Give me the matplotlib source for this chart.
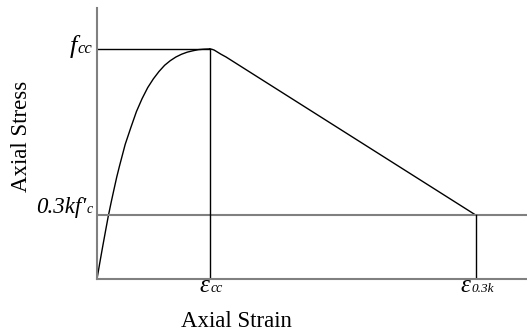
import matplotlib
matplotlib.use("Agg")
import matplotlib.pyplot as plt

# Normalised stress-strain curve (strain / eps_cc, stress / f_cc)
asc_strain = [0.0, 0.025, 0.05, 0.075, 0.10, 0.125, 0.15, 0.175, 0.20, 0.25, 0.30,
              0.35, 0.40, 0.45, 0.50, 0.55, 0.60, 0.65, 0.70, 0.75, 0.80, 0.85,
              0.90, 0.95, 1.00]
asc_stress = [0.0, 0.071, 0.14, 0.207, 0.273, 0.332, 0.388, 0.443, 0.492, 0.585, 0.658,
              0.728, 0.784, 0.832, 0.870, 0.902, 0.929, 0.949, 0.965, 0.977, 0.986, 0.992,
              0.997, 0.999, 1.00]
desc_strain = [1.00, 1.02, 1.04, 1.07, 1.10, 1.145, 3.36]
desc_stress = [1.00, 0.9985, 0.995, 0.986, 0.977, 0.965, 0.278]

eps_cc = 1.0
eps_03k = 3.36
f_cc = 1.0
f_03k = 0.278
x_max = 3.815
y_max = 1.178

W, H = 527, 332
ax_left, ax_bottom, ax_top = 97, 279, 8

plt.rcParams['font.family'] = ['Liberation Serif', 'DejaVu Serif']

fig = plt.figure(figsize=(W / 100, H / 100), dpi=100)
ax = fig.add_axes([ax_left / W, 1 - ax_bottom / H, 1 - ax_left / W, (ax_bottom - ax_top) / H])
ax.set_xlim(0, x_max)
ax.set_ylim(0, y_max)

grey = '#808080'
for side in ('top', 'right'):
    ax.spines[side].set_visible(False)
for side in ('left', 'bottom'):
    ax.spines[side].set_color(grey)
    ax.spines[side].set_linewidth(1.5)
ax.set_xticks([])
ax.set_yticks([])

# curve
ax.plot(asc_strain, asc_stress, color='black', lw=1.0, solid_joinstyle='round')
ax.plot(desc_strain, desc_stress, color='black', lw=1.0, solid_joinstyle='round')

# reference lines
ax.axhline(f_03k, color=grey, lw=1.5)
ax.plot([0, eps_cc], [f_cc, f_cc], color='black', lw=1.0)
ax.plot([eps_cc, eps_cc], [0, f_cc], color='black', lw=1.0)
ax.plot([eps_03k, eps_03k], [0, f_03k], color='black', lw=1.0)


def label(text, xy, dx, dy, size, ha='left'):
    ax.annotate(text, xy=xy, xycoords='data', xytext=(dx, dy),
                textcoords='offset pixels', ha=ha, va='baseline',
                fontsize=size, style='italic', annotation_clip=False)


# stress labels
label('f', (0, f_cc), -20, -4, 19, ha='right')
label('cc', (0, f_cc), -20, -4, 12)
label("0.3kf'", (0, f_03k), -11, 2, 16.5, ha='right')
label('c', (0, f_03k), -10, 2, 10)

# strain labels
label('\u03b5', (eps_cc, 0), -10, -13, 18)
label('cc', (eps_cc, 0), 1, -13, 10)
label('\u03b5', (eps_03k, 0), -15, -13, 18)
label('0.3k', (eps_03k, 0), -4, -13, 9.5)

fig.text(236 / W, 1 - 327 / H, 'Axial Strain', ha='center', va='baseline', fontsize=16.5)
fig.text(22 / W, 1 - 136.5 / H, 'Axial Stress', ha='center', va='center',
         rotation=90, fontsize=16.5)

fig.savefig('out.png', dpi=100)
